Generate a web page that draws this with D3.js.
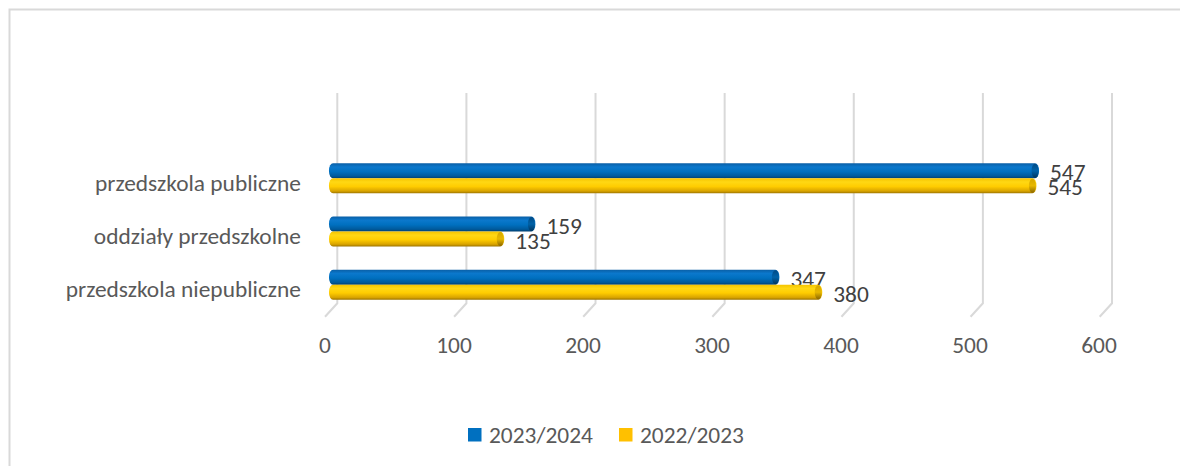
<!DOCTYPE html>
<meta charset="utf-8">
<script src="https://d3js.org/d3.v7.min.js"></script>
<style>
  body { margin: 0; background: #fff; }
  svg { font-family: Carlito, Calibri, Lato, sans-serif; }
  .tick text { fill: #595959; }
</style>
<div id="chart"></div>
<script>

// data
var categories = ["przedszkola publiczne", "oddziały przedszkolne", "przedszkola niepubliczne"]
var seriesNames = ["2023/2024", "2022/2023"]
var values2324 = [547, 159, 347]
var values2223 = [545, 135, 380]
var xTicks = [0, 100, 200, 300, 400, 500, 600]

var width = 1180, height = 466
var font = "Carlito, Calibri, Lato, sans-serif"
var fontSize = "23.4px"

var svg = d3.select("#chart").append("svg")
  .attr("width", width)
  .attr("height", height)

// gradients for the "cylinder" look
var defs = svg.append("defs")
function grad(id, stops) {
  var g = defs.append("linearGradient").attr("id", id)
    .attr("x1", 0).attr("y1", 0).attr("x2", 0).attr("y2", 1)
  stops.forEach(function(s) {
    g.append("stop").attr("offset", s[0]).attr("stop-color", s[1])
  })
}
grad("gBlue", [[0, "#0a5fa6"], [0.25, "#0b78cc"], [0.55, "#0070c0"], [0.85, "#005a9c"], [1, "#003f70"]])
grad("gYellow", [[0, "#f5c400"], [0.25, "#ffd814"], [0.55, "#ffcc00"], [0.85, "#d9a400"], [1, "#9c7400"]])
grad("gBlueEnd", [[0, "#004a85"], [0.5, "#0062a8"], [1, "#00355f"]])
grad("gYellowEnd", [[0, "#d6a800"], [0.5, "#e8b800"], [1, "#8a6600"]])

var colors = {"2023/2024": "#0070c0", "2022/2023": "#ffc000"}
var fills = {"2023/2024": "url(#gBlue)", "2022/2023": "url(#gYellow)"}
var endFills = {"2023/2024": "url(#gBlueEnd)", "2022/2023": "url(#gYellowEnd)"}

// chart frame
svg.append("rect")
  .attr("x", 9.5).attr("y", 9.5)
  .attr("width", 1200).attr("height", 500)
  .attr("fill", "none")
  .attr("stroke", "#d9d9d9")
  .attr("stroke-width", 2)

// scales: back wall (grid), front (bars), floor edge (labels)
var xBack = d3.scaleLinear().domain([0, 600]).range([337.3, 1112])
var x = d3.scaleLinear().domain([0, 600]).range([329, 1107.8])
var xLab = d3.scaleLinear().domain([0, 600]).range([324.5, 1098.5])

var y = d3.scaleBand().domain(categories).range([151.7, 311.3])
var ySub = d3.scaleBand().domain(seriesNames).range([-15, 15])

// gridlines bending onto the floor
svg.append("g").selectAll("path")
  .data(xTicks)
  .enter()
  .append("path")
  .attr("d", function(d) {
    var xb = xBack(d)
    return "M" + xb + ",93 L" + xb + ",303.3 L" + (xb - 12.3) + ",316.7"
  })
  .attr("fill", "none")
  .attr("stroke", "#d9d9d9")
  .attr("stroke-width", 2)

// x axis labels
var xAxis = svg.append("g")
  .attr("transform", "translate(0,336)")
  .call(d3.axisBottom(xLab).tickValues(xTicks).tickSize(0).tickPadding(0))
  .attr("font-family", font)
  .attr("font-size", fontSize)
xAxis.select(".domain").remove()
xAxis.selectAll("text")
  .attr("dy", "0.71em")

// category labels
var yAxis = svg.append("g")
  .attr("transform", "translate(301,0)")
  .call(d3.axisLeft(y).tickSize(0).tickPadding(0))
  .attr("font-family", font)
  .attr("font-size", fontSize)
yAxis.select(".domain").remove()
yAxis.selectAll("text")
  .attr("dy", 0)
  .attr("y", 12.5)

// bars
var rows = []
categories.forEach(function(c, i) {
  rows.push({cat: c, s: "2023/2024", v: values2324[i]})
  rows.push({cat: c, s: "2022/2023", v: values2223[i]})
})

var bars = svg.append("g").selectAll("g")
  .data(rows)
  .enter()
  .append("g")
  .attr("transform", function(d) {
    return "translate(0," + (y(d.cat) + y.bandwidth() / 2 + ySub(d.s)) + ")"
  })

bars.append("rect")
  .attr("x", x(0))
  .attr("y", 0)
  .attr("width", function(d) { return x(d.v) - x(0) })
  .attr("height", ySub.bandwidth())
  .attr("rx", 4).attr("ry", 7)
  .attr("fill", function(d) { return fills[d.s] })

bars.append("ellipse")
  .attr("cx", function(d) { return x(d.v) - 4 })
  .attr("cy", ySub.bandwidth() / 2)
  .attr("rx", 3.5)
  .attr("ry", ySub.bandwidth() / 2 - 0.5)
  .attr("fill", function(d) { return endFills[d.s] })

bars.append("text")
  .attr("x", function(d) { return x(d.v) + 11 })
  .attr("y", ySub.bandwidth() / 2 + 9.5)
  .attr("fill", "#404040")
  .style("font-size", fontSize)
  .text(function(d) { return d.v })

// legend
var legend = svg.append("g").attr("transform", "translate(468,428)")
var legendX = [0, 151]
seriesNames.forEach(function(s, i) {
  var g = legend.append("g").attr("transform", "translate(" + legendX[i] + ",0)")
  g.append("rect").attr("width", 13.5).attr("height", 13.5).attr("fill", colors[s])
  g.append("text").attr("x", 21).attr("y", 14.5)
    .attr("fill", "#595959")
    .style("font-size", fontSize)
    .text(s)
})

</script>
